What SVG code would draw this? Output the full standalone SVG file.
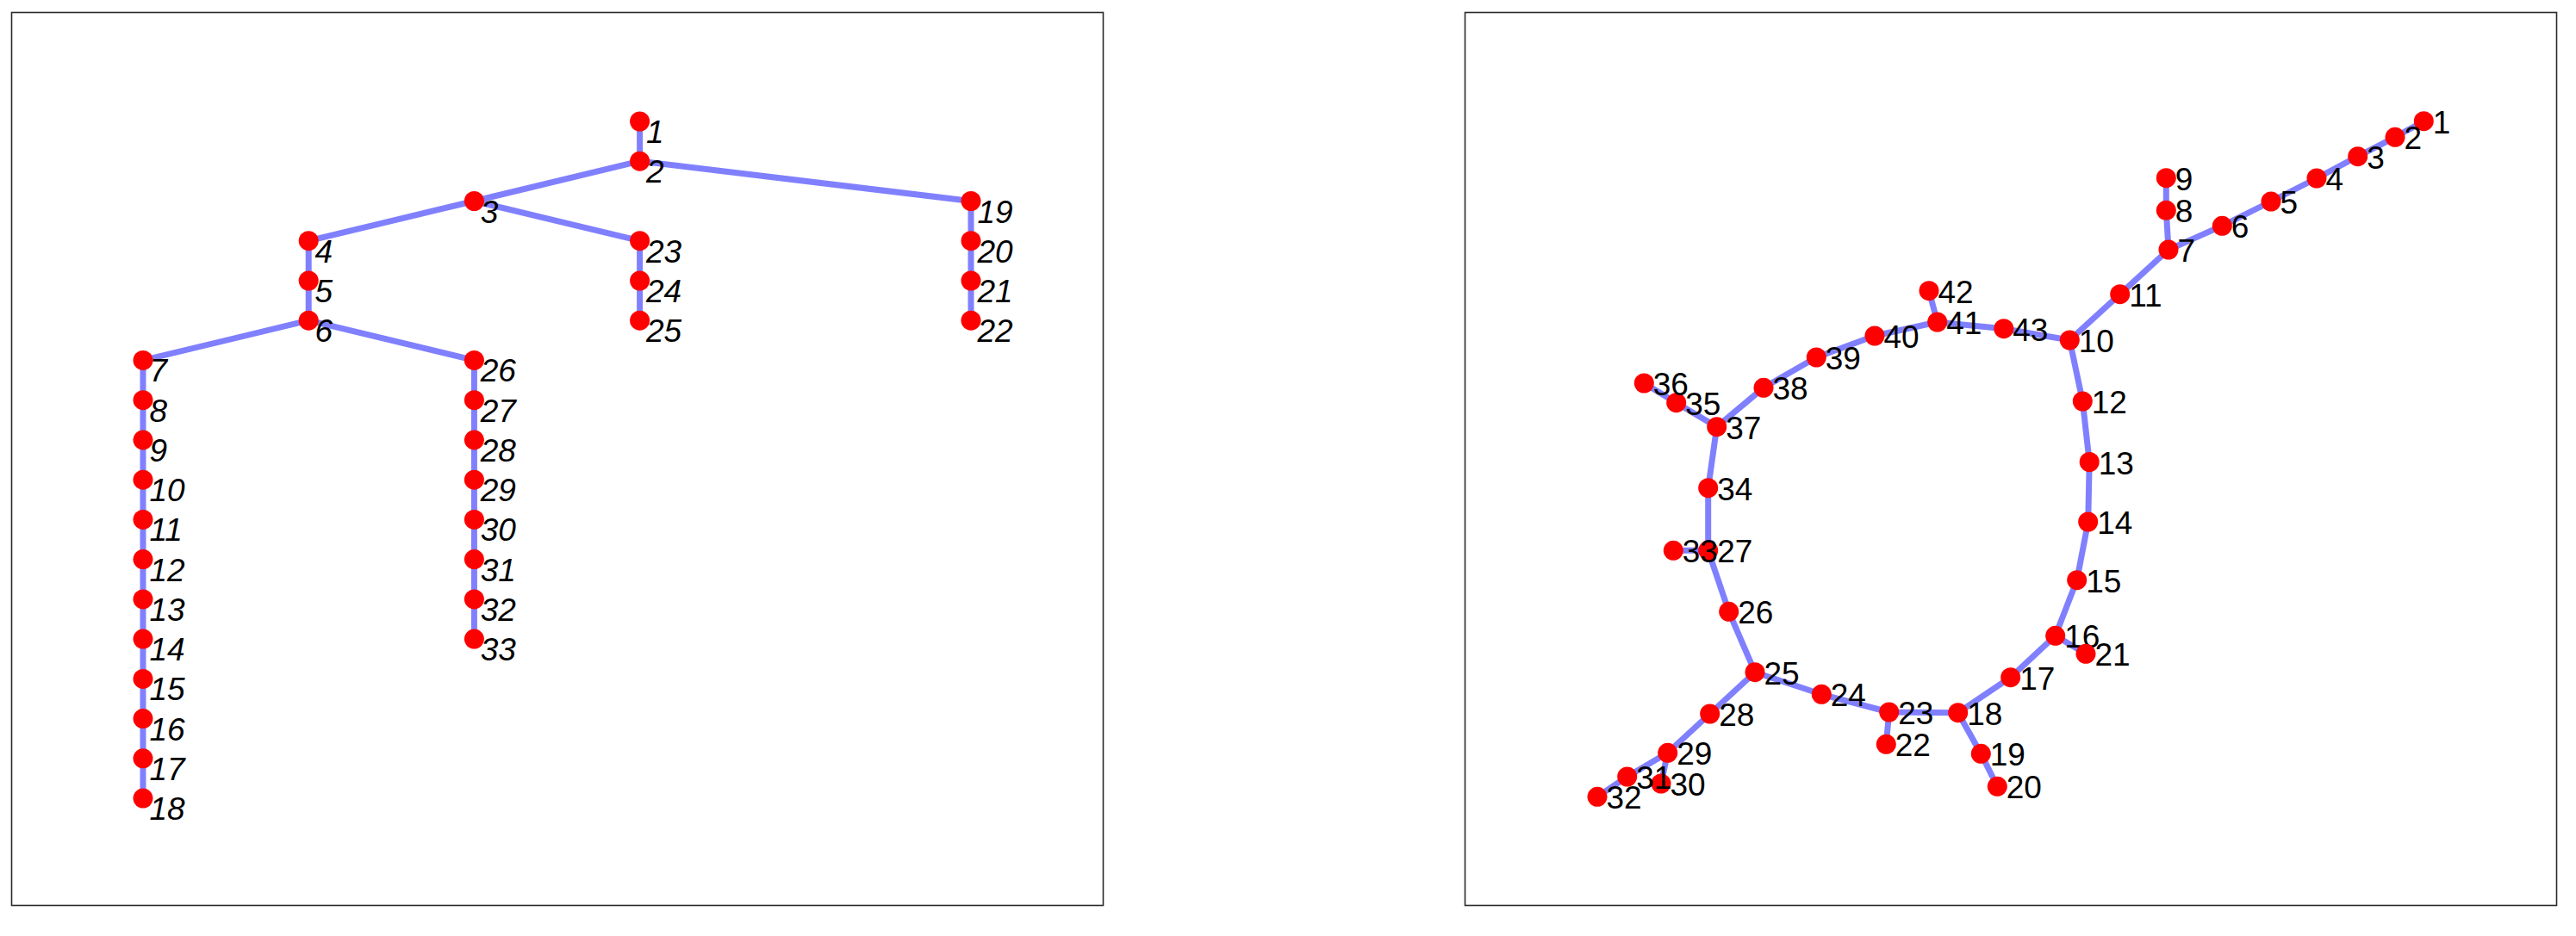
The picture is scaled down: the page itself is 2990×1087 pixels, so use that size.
<svg xmlns="http://www.w3.org/2000/svg" width="2990" height="1087" viewBox="0 0 2990 1087">
<style>
.frame{fill:none;stroke:#2a2a2a;stroke-width:1.6}
.e{stroke:#8080ff;stroke-width:7;stroke-linecap:round;stroke-linejoin:round;fill:none}
.n{fill:#ff0000}
.lt{font-family:"Liberation Sans",Arial,sans-serif;font-size:37px;font-style:italic;fill:#000}
.rt{font-family:"Liberation Sans",Arial,sans-serif;font-size:37px;fill:#000}
</style>
<rect width="2990" height="1087" fill="#ffffff"/>
<rect class="frame" x="13.5" y="14.5" width="1267" height="1037"/>
<rect class="frame" x="1700.5" y="14.5" width="1267" height="1037"/>
<g id="connectors">
<g id="left-edges" class="e">
<line x1="742.6" y1="141" x2="742.6" y2="187.2"/>
<line x1="742.6" y1="187.2" x2="550.4" y2="233.5"/>
<line x1="742.6" y1="187.2" x2="1127" y2="233.5"/>
<line x1="550.4" y1="233.5" x2="358.2" y2="279.7"/>
<line x1="550.4" y1="233.5" x2="742.6" y2="279.7"/>
<line x1="358.2" y1="279.7" x2="358.2" y2="372.2"/>
<line x1="358.2" y1="372.2" x2="166" y2="418.4"/>
<line x1="358.2" y1="372.2" x2="550.4" y2="418.4"/>
<line x1="166" y1="418.4" x2="166" y2="927.1"/>
<line x1="550.4" y1="418.4" x2="550.4" y2="742.1"/>
<line x1="742.6" y1="279.7" x2="742.6" y2="372.2"/>
<line x1="1127" y1="233.5" x2="1127" y2="372.2"/>
</g>
<g id="right-edges" class="e">
<polyline points="2813.3,140.7 2780,159.3 2736.7,181.7 2689,207 2636,234 2579.3,262.3 2517,290 2460.7,341.7 2402.3,395"/>
<polyline points="2517,290 2514.3,244.3 2514.3,206.7"/>
<polyline points="2402.3,395 2325.8,381.7 2248.7,374 2176,390 2108.3,415 2047,450.3 1992.7,495.7 1945.7,467.7 1908.3,445"/>
<line x1="2248.7" y1="374" x2="2239" y2="337.7"/>
<polyline points="1992.7,495.7 1982.7,566.7 1982.7,639.3 2006.7,710.3 2037,780.7 2114.3,806.3 2192.7,827 2272.7,827.7 2333.7,786.7 2385.7,738.3 2410.7,673.7 2423.7,606 2425.2,536.5 2417.3,466 2402.3,395"/>
<line x1="1982.7" y1="639.3" x2="1942.3" y2="639.3"/>
<line x1="2192.7" y1="827" x2="2189.3" y2="864.3"/>
<polyline points="2272.7,827.7 2299.3,875.3 2318.3,913.3"/>
<line x1="2385.7" y1="738.3" x2="2421" y2="759.3"/>
<polyline points="2037,780.7 1984.7,829 1935.7,874.3 1888.7,902 1854,925.3"/>
<line x1="1935.7" y1="874.3" x2="1928" y2="910"/>
</g>
</g>
<g id="left-graph">
<g id="L1"><circle class="n" cx="742.6" cy="141" r="11.5"/><text class="lt" x="750" y="166">1</text></g>
<g id="L2"><circle class="n" cx="742.6" cy="187.2" r="11.5"/><text class="lt" x="750" y="212.2">2</text></g>
<g id="L3"><circle class="n" cx="550.4" cy="233.5" r="11.5"/><text class="lt" x="557.8" y="258.5">3</text></g>
<g id="L4"><circle class="n" cx="358.2" cy="279.7" r="11.5"/><text class="lt" x="365.6" y="304.7">4</text></g>
<g id="L5"><circle class="n" cx="358.2" cy="326" r="11.5"/><text class="lt" x="365.6" y="351">5</text></g>
<g id="L6"><circle class="n" cx="358.2" cy="372.2" r="11.5"/><text class="lt" x="365.6" y="397.2">6</text></g>
<g id="L7"><circle class="n" cx="166" cy="418.4" r="11.5"/><text class="lt" x="173.4" y="443.4">7</text></g>
<g id="L8"><circle class="n" cx="166" cy="464.7" r="11.5"/><text class="lt" x="173.4" y="489.7">8</text></g>
<g id="L9"><circle class="n" cx="166" cy="510.9" r="11.5"/><text class="lt" x="173.4" y="535.9">9</text></g>
<g id="L10"><circle class="n" cx="166" cy="557.2" r="11.5"/><text class="lt" x="173.4" y="582.2">10</text></g>
<g id="L11"><circle class="n" cx="166" cy="603.4" r="11.5"/><text class="lt" x="173.4" y="628.4">11</text></g>
<g id="L12"><circle class="n" cx="166" cy="649.6" r="11.5"/><text class="lt" x="173.4" y="674.6">12</text></g>
<g id="L13"><circle class="n" cx="166" cy="695.9" r="11.5"/><text class="lt" x="173.4" y="720.9">13</text></g>
<g id="L14"><circle class="n" cx="166" cy="742.1" r="11.5"/><text class="lt" x="173.4" y="767.1">14</text></g>
<g id="L15"><circle class="n" cx="166" cy="788.4" r="11.5"/><text class="lt" x="173.4" y="813.4">15</text></g>
<g id="L16"><circle class="n" cx="166" cy="834.6" r="11.5"/><text class="lt" x="173.4" y="859.6">16</text></g>
<g id="L17"><circle class="n" cx="166" cy="880.8" r="11.5"/><text class="lt" x="173.4" y="905.8">17</text></g>
<g id="L18"><circle class="n" cx="166" cy="927.1" r="11.5"/><text class="lt" x="173.4" y="952.1">18</text></g>
<g id="L19"><circle class="n" cx="1127" cy="233.5" r="11.5"/><text class="lt" x="1134.4" y="258.5">19</text></g>
<g id="L20"><circle class="n" cx="1127" cy="279.7" r="11.5"/><text class="lt" x="1134.4" y="304.7">20</text></g>
<g id="L21"><circle class="n" cx="1127" cy="326" r="11.5"/><text class="lt" x="1134.4" y="351">21</text></g>
<g id="L22"><circle class="n" cx="1127" cy="372.2" r="11.5"/><text class="lt" x="1134.4" y="397.2">22</text></g>
<g id="L23"><circle class="n" cx="742.6" cy="279.7" r="11.5"/><text class="lt" x="750" y="304.7">23</text></g>
<g id="L24"><circle class="n" cx="742.6" cy="326" r="11.5"/><text class="lt" x="750" y="351">24</text></g>
<g id="L25"><circle class="n" cx="742.6" cy="372.2" r="11.5"/><text class="lt" x="750" y="397.2">25</text></g>
<g id="L26"><circle class="n" cx="550.4" cy="418.4" r="11.5"/><text class="lt" x="557.8" y="443.4">26</text></g>
<g id="L27"><circle class="n" cx="550.4" cy="464.7" r="11.5"/><text class="lt" x="557.8" y="489.7">27</text></g>
<g id="L28"><circle class="n" cx="550.4" cy="510.9" r="11.5"/><text class="lt" x="557.8" y="535.9">28</text></g>
<g id="L29"><circle class="n" cx="550.4" cy="557.2" r="11.5"/><text class="lt" x="557.8" y="582.2">29</text></g>
<g id="L30"><circle class="n" cx="550.4" cy="603.4" r="11.5"/><text class="lt" x="557.8" y="628.4">30</text></g>
<g id="L31"><circle class="n" cx="550.4" cy="649.6" r="11.5"/><text class="lt" x="557.8" y="674.6">31</text></g>
<g id="L32"><circle class="n" cx="550.4" cy="695.9" r="11.5"/><text class="lt" x="557.8" y="720.9">32</text></g>
<g id="L33"><circle class="n" cx="550.4" cy="742.1" r="11.5"/><text class="lt" x="557.8" y="767.1">33</text></g>
</g>
<g id="right-graph">
<g id="R1"><circle class="n" cx="2813.3" cy="140.7" r="11.5"/><text class="rt" x="2823.8" y="154.7">1</text></g>
<g id="R2"><circle class="n" cx="2780" cy="159.3" r="11.5"/><text class="rt" x="2790.5" y="173.3">2</text></g>
<g id="R3"><circle class="n" cx="2736.7" cy="181.7" r="11.5"/><text class="rt" x="2747.2" y="195.7">3</text></g>
<g id="R4"><circle class="n" cx="2689" cy="207" r="11.5"/><text class="rt" x="2699.5" y="221">4</text></g>
<g id="R5"><circle class="n" cx="2636" cy="234" r="11.5"/><text class="rt" x="2646.5" y="248">5</text></g>
<g id="R6"><circle class="n" cx="2579.3" cy="262.3" r="11.5"/><text class="rt" x="2589.8" y="276.3">6</text></g>
<g id="R7"><circle class="n" cx="2517" cy="290" r="11.5"/><text class="rt" x="2527.5" y="304">7</text></g>
<g id="R8"><circle class="n" cx="2514.3" cy="244.3" r="11.5"/><text class="rt" x="2524.8" y="258.3">8</text></g>
<g id="R9"><circle class="n" cx="2514.3" cy="206.7" r="11.5"/><text class="rt" x="2524.8" y="220.7">9</text></g>
<g id="R10"><circle class="n" cx="2402.3" cy="395" r="11.5"/><text class="rt" x="2412.8" y="409">10</text></g>
<g id="R11"><circle class="n" cx="2460.7" cy="341.7" r="11.5"/><text class="rt" x="2471.2" y="355.7">11</text></g>
<g id="R12"><circle class="n" cx="2417.3" cy="466" r="11.5"/><text class="rt" x="2427.8" y="480">12</text></g>
<g id="R13"><circle class="n" cx="2425.2" cy="536.5" r="11.5"/><text class="rt" x="2435.7" y="550.5">13</text></g>
<g id="R14"><circle class="n" cx="2423.7" cy="606" r="11.5"/><text class="rt" x="2434.2" y="620">14</text></g>
<g id="R15"><circle class="n" cx="2410.7" cy="673.7" r="11.5"/><text class="rt" x="2421.2" y="687.7">15</text></g>
<g id="R16"><circle class="n" cx="2385.7" cy="738.3" r="11.5"/><text class="rt" x="2396.2" y="752.3">16</text></g>
<g id="R17"><circle class="n" cx="2333.7" cy="786.7" r="11.5"/><text class="rt" x="2344.2" y="800.7">17</text></g>
<g id="R18"><circle class="n" cx="2272.7" cy="827.7" r="11.5"/><text class="rt" x="2283.2" y="841.7">18</text></g>
<g id="R19"><circle class="n" cx="2299.3" cy="875.3" r="11.5"/><text class="rt" x="2309.8" y="889.3">19</text></g>
<g id="R20"><circle class="n" cx="2318.3" cy="913.3" r="11.5"/><text class="rt" x="2328.8" y="927.3">20</text></g>
<g id="R21"><circle class="n" cx="2421" cy="759.3" r="11.5"/><text class="rt" x="2431.5" y="773.3">21</text></g>
<g id="R22"><circle class="n" cx="2189.3" cy="864.3" r="11.5"/><text class="rt" x="2199.8" y="878.3">22</text></g>
<g id="R23"><circle class="n" cx="2192.7" cy="827" r="11.5"/><text class="rt" x="2203.2" y="841">23</text></g>
<g id="R24"><circle class="n" cx="2114.3" cy="806.3" r="11.5"/><text class="rt" x="2124.8" y="820.3">24</text></g>
<g id="R25"><circle class="n" cx="2037" cy="780.7" r="11.5"/><text class="rt" x="2047.5" y="794.7">25</text></g>
<g id="R26"><circle class="n" cx="2006.7" cy="710.3" r="11.5"/><text class="rt" x="2017.2" y="724.3">26</text></g>
<g id="R27"><circle class="n" cx="1982.7" cy="639.3" r="11.5"/><text class="rt" x="1993.2" y="653.3">27</text></g>
<g id="R28"><circle class="n" cx="1984.7" cy="829" r="11.5"/><text class="rt" x="1995.2" y="843">28</text></g>
<g id="R29"><circle class="n" cx="1935.7" cy="874.3" r="11.5"/><text class="rt" x="1946.2" y="888.3">29</text></g>
<g id="R30"><circle class="n" cx="1928" cy="910" r="11.5"/><text class="rt" x="1938.5" y="924">30</text></g>
<g id="R31"><circle class="n" cx="1888.7" cy="902" r="11.5"/><text class="rt" x="1899.2" y="916">31</text></g>
<g id="R32"><circle class="n" cx="1854" cy="925.3" r="11.5"/><text class="rt" x="1864.5" y="939.3">32</text></g>
<g id="R33"><circle class="n" cx="1942.3" cy="639.3" r="11.5"/><text class="rt" x="1952.8" y="653.3">33</text></g>
<g id="R34"><circle class="n" cx="1982.7" cy="566.7" r="11.5"/><text class="rt" x="1993.2" y="580.7">34</text></g>
<g id="R35"><circle class="n" cx="1945.7" cy="467.7" r="11.5"/><text class="rt" x="1956.2" y="481.7">35</text></g>
<g id="R36"><circle class="n" cx="1908.3" cy="445" r="11.5"/><text class="rt" x="1918.8" y="459">36</text></g>
<g id="R37"><circle class="n" cx="1992.7" cy="495.7" r="11.5"/><text class="rt" x="2003.2" y="509.7">37</text></g>
<g id="R38"><circle class="n" cx="2047" cy="450.3" r="11.5"/><text class="rt" x="2057.5" y="464.3">38</text></g>
<g id="R39"><circle class="n" cx="2108.3" cy="415" r="11.5"/><text class="rt" x="2118.8" y="429">39</text></g>
<g id="R40"><circle class="n" cx="2176" cy="390" r="11.5"/><text class="rt" x="2186.5" y="404">40</text></g>
<g id="R41"><circle class="n" cx="2248.7" cy="374" r="11.5"/><text class="rt" x="2259.2" y="388">41</text></g>
<g id="R42"><circle class="n" cx="2239" cy="337.7" r="11.5"/><text class="rt" x="2249.5" y="351.7">42</text></g>
<g id="R43"><circle class="n" cx="2325.8" cy="381.7" r="11.5"/><text class="rt" x="2336.3" y="395.7">43</text></g>
</g>
</svg>
